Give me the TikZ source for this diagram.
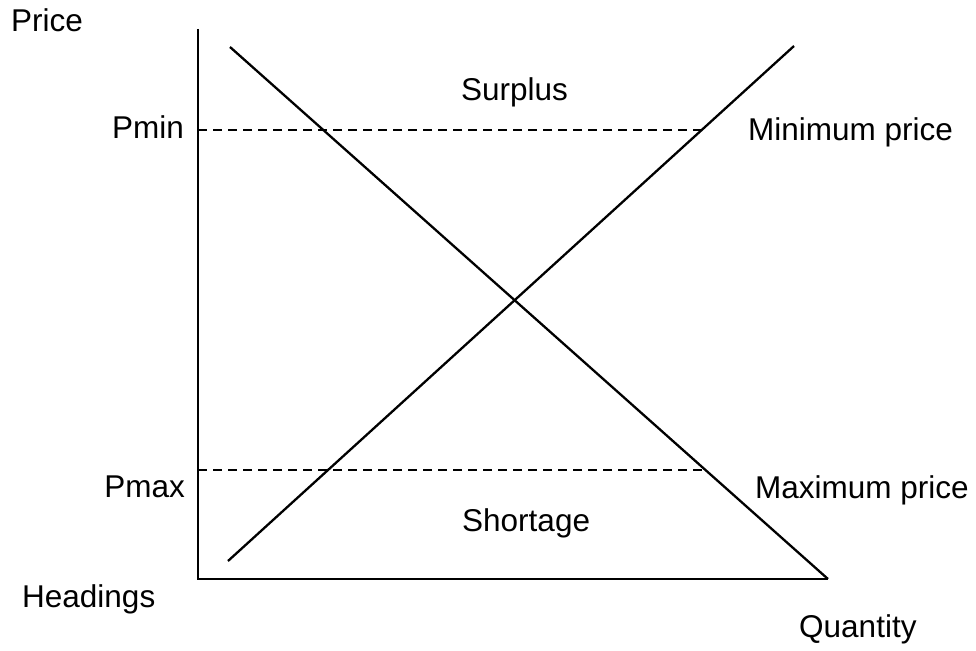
\documentclass[tikz,border=0pt]{standalone}
\usepackage{fontspec}
\setmainfont{Liberation Sans}
\begin{document}
\begin{tikzpicture}[x=1pt,y=-1pt,
  lbl/.style={inner sep=0pt,font=\fontsize{31.5}{34}\selectfont},
  curve/.style={line width=2.3pt,black},
  axisline/.style={line width=2.5pt,black},
  floor/.style={line width=1.8pt,black,dash pattern=on 9pt off 6pt}]
\useasboundingbox[fill=white] (0,0) rectangle (976,650);
% axes
\coordinate (ytop) at (198,29);
\coordinate (orig) at (198,579);
\coordinate (xend) at (828,579);
\draw[axisline] (ytop) -- (orig) -- (xend);
% curves
\coordinate (d1) at (230,47);
\coordinate (s1) at (228,561);
\coordinate (s2) at (794,46);
\draw[curve] (d1) -- (xend);
\draw[curve] (s1) -- (s2);
% price floors/ceilings
\coordinate (pminL) at (198,130);
\coordinate (pminR) at (701,130);
\coordinate (pmaxL) at (198,470);
\coordinate (pmaxR) at (705,470);
\draw[floor] (pminL) -- (pminR);
\draw[floor] (pmaxL) -- (pmaxR);
% labels
\node[lbl,anchor=base west] (price) at (11,32) {Price};
\node[lbl,anchor=base east] (pmin) at (184,139) {Pmin};
\node[lbl,anchor=base east] (pmax) at (185,497) {Pmax};
\node[lbl,anchor=base west] (head) at (22,607) {Headings};
\node[lbl,anchor=base west] (surp) at (461,101) {Surplus};
\node[lbl,anchor=base west] (short) at (462,531) {Shortage};
\node[lbl,anchor=base west] (minp) at (748,140) {Minimum price};
\node[lbl,anchor=base west] (maxp) at (755,498) {Maximum price};
\node[lbl,anchor=base west] (qty) at (799,637) {Quantity};
\end{tikzpicture}
\end{document}
